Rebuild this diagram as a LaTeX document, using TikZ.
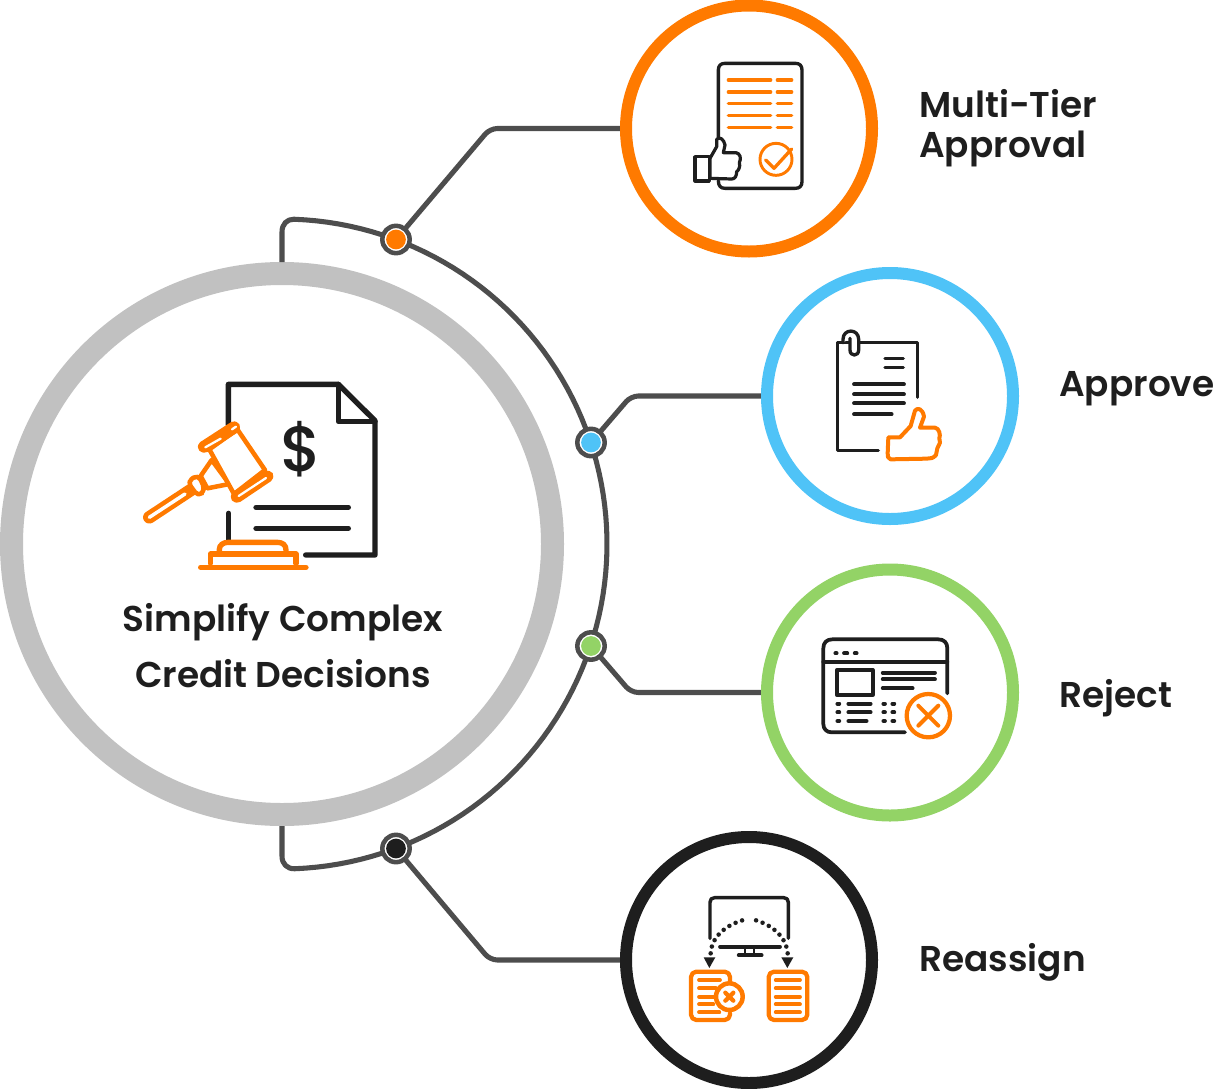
\documentclass[tikz,border=0pt]{standalone}
\usepackage{fontspec}
\setmainfont{Poppins SemiBold}
\newfontfamily\popmed{Poppins Medium}
\definecolor{cO}{HTML}{FF7A00}
\definecolor{cB}{HTML}{4FC3F7}
\definecolor{cG}{HTML}{93D366}
\definecolor{cK}{HTML}{1E1E1E}
\definecolor{cR}{HTML}{C1C1C1}
\definecolor{cL}{HTML}{4D4D4D}
\newcommand{\marker}[3]{%
  \node[circle,draw=cL,fill=white,line width=3.4pt,minimum size=20.5pt,inner sep=0,outer sep=0] (#1) at (#2) {};
  \fill[#3] (#1.center) circle (7.4pt);}
\tikzset{
  x=0.75pt,y=-0.75pt,
  ring/.style={circle,fill=white,line width=9pt,minimum size=184.5pt,inner sep=0,outer sep=0},
  conn/.style={draw=cL,line width=3.8pt,rounded corners=5.5pt},
  lab/.style={anchor=base west,inner sep=0,font=\fontsize{26.9pt}{26.9pt}\selectfont,text=cK},
  ctr/.style={anchor=base,inner sep=0,font=\fontsize{26.9pt}{26.9pt}\selectfont,text=cK},
  ik/.style={draw=cK,line width=#1,line cap=round,line join=round},
  io/.style={draw=cO,line width=#1,line cap=round,line join=round},
}
\begin{document}
\begin{tikzpicture}
\useasboundingbox (0,0) rectangle (1214,1089);
% hub and outer arc
\node[circle,draw=cR,fill=white,line width=17.25pt,minimum size=405.75pt,inner sep=0,outer sep=0] (hub) at (282,544) {};
\coordinate (hubT) at (282,262);
\coordinate (hubB) at (282,826);
\draw[draw=cL,line width=3.8pt,line join=round] (hubT) -- (282,232) .. controls (282,224) and (287,219.2) .. (294,219.2)
  -- plot[domain=87.8:-87.8,samples=90] ({282+325*cos(\x)},{544-325*sin(\x)})
  .. controls (287,868.8) and (282,864) .. (282,856) -- (hubB);
% connectors
\coordinate (m1c) at (396,239.5);
\coordinate (m2c) at (591,442.5);
\coordinate (m3c) at (591,646);
\coordinate (m4c) at (396,848.5);
\coordinate (b1) at (490,128.5);
\coordinate (b2) at (631,396);
\coordinate (b3) at (631,692.5);
\coordinate (b4) at (490,960);
\coordinate (e1) at (749,128.5);
\coordinate (e2) at (890,396);
\coordinate (e3) at (890,692.5);
\coordinate (e4) at (749,960);
\draw[conn] (m1c) -- (b1) -- (e1);
\draw[conn] (m2c) -- (b2) -- (e2);
\draw[conn] (m3c) -- (b3) -- (e3);
\draw[conn] (m4c) -- (b4) -- (e4);
% satellite circles
\node[ring,draw=cO] (c1) at (e1) {};
\node[ring,draw=cB] (c2) at (e2) {};
\node[ring,draw=cG] (c3) at (e3) {};
\node[ring,draw=cK] (c4) at (e4) {};
% markers
\marker{m1}{m1c}{cO}
\marker{m2}{m2c}{cB}
\marker{m3}{m3c}{cG}
\marker{m4}{m4c}{cK}
% texts
\node[ctr] (t1) at (283,631) {Simplify Complex};
\node[ctr] (t2) at (283,687) {Credit Decisions};
\node[lab] (l1) at (919,117.5) {Multi-Tier};
\node[lab] (l2) at (919,157.5) {Approval};
\node[lab] (l3) at (1059,396) {Approve};
\node[lab] (l4) at (1059,707.5) {Reject};
\node[lab] (l5) at (919,971.5) {Reassign};
% central icon
\begin{scope}[shift={(130,370)},scale=1/3]
\draw[ik=4pt] (296,430) -- (296,512);
\draw[ik=4pt] (295,165) -- (295,43) -- (625,43) -- (735,152) -- (735,555) -- (527,555);
\draw[ik=4pt] (625,43) -- (625,155) -- (735,155);
\draw[ik=4pt] (378,412) -- (655,412) (378,475) -- (655,475);
\node[inner sep=0,text=cK,font=\popmed\fontsize{48pt}{48pt}\selectfont] (dollar) at (514,238) {\$};
% gavel
\draw[io=3.4pt,fill=white] (245,270) -- (212,318) -- (232,355) -- (298,342) -- cycle;
\draw[cO,line width=9.4pt,line cap=round] (58,442) -- (190,355);
\draw[white,line width=2.6pt,line cap=round] (58,442) -- (165,372);
\draw[io=3.4pt,fill=white,rounded corners=4pt] (172,335) -- (205,314) -- (226,360) -- (205,380) -- cycle;
\draw[io=3.4pt,fill=white] (238,238) -- (322,178) -- (405,300) -- (312,372) -- cycle;
\draw[io=3.4pt,fill=cO,rounded corners=3pt] (205,228) -- (316,156) -- (328,176) -- (220,246) -- cycle;
\draw[io=3.4pt,fill=cO,rounded corners=3pt] (304,378) -- (416,304) -- (428,322) -- (318,396) -- cycle;
\draw[draw=white,line width=1.7pt,line cap=round] (226,232) -- (272,206) (306,178) -- (318,170) (326,378) -- (408,324);
% base
\draw[io=4pt] (268,545) -- (268,538) .. controls (268,525) and (280,517) .. (295,517) -- (442,517) .. controls (458,517) and (468,525) .. (468,540) -- (468,548);
\draw[io=4pt] (241,580) -- (241,552) -- (498,552) -- (498,580);
\draw[io=4pt] (212,592) -- (528,592);
\end{scope}
% icon 1
\begin{scope}[shift={(680,50)},scale=1/3]
\draw[ik=2.5pt] (115,262) -- (115,60) .. controls (115,47) and (122,40) .. (135,40) -- (346,40) .. controls (359,40) and (366,47) .. (366,60) -- (366,395) .. controls (366,408) and (359,415) .. (346,415) -- (135,415) .. controls (122,415) and (115,408) .. (115,392);
\foreach \yy in {90,126,161,197,233}{
  \draw[io=2.5pt] (145,\yy) -- (272,\yy) (292,\yy) -- (335,\yy);}
\draw[io=2.2pt] (288,328) circle (48);
\draw[io=2.5pt] (257,330) -- (282,355) -- (335,297);
\draw[ik=2.4pt,fill=white] (45,320) rectangle (88,393);
\draw[ik=2.4pt,fill=white] (90,325) -- (110,290) -- (110,268) .. controls (118,258) and (132,268) .. (135,285) -- (130,308) -- (168,308) .. controls (180,310) and (185,325) .. (178,338) .. controls (182,350) and (175,362) .. (170,365) .. controls (170,378) and (165,387) .. (155,387) -- (90,385) -- cycle;
\end{scope}
% icon 2
\begin{scope}[shift={(820,320)},scale=1/3]
\draw[ik=2.5pt] (292,232) -- (292,68) -- (52,68) -- (52,392) -- (175,392);
\draw[ik=2.5pt] (195,115) -- (250,115) (195,142) -- (250,142);
\draw[ik=2.8pt] (102,193) -- (252,193) (102,223) -- (252,223) (102,250) -- (252,250) (102,283) -- (215,283);
\draw[ik=2.5pt,fill=white] (69,68) -- (69,58) .. controls (69,25) and (116,25) .. (116,58) -- (116,90) .. controls (116,110) and (90,110) .. (90,90) -- (90,55);
\draw[io=3pt] (205,352) -- (240,352) -- (272,318) -- (285,272) .. controls (292,262) and (308,265) .. (312,290) -- (300,323) -- (345,323) .. controls (358,325) and (362,345) .. (358,355) -- (360,368) -- (352,385) -- (348,405) .. controls (340,415) and (330,416) .. (320,416) -- (212,418) .. controls (203,415) and (203,410) .. (203,400) -- cycle;
\end{scope}
% icon 3
\begin{scope}[shift={(810,625)},scale=1/3]
\draw[ik=2.8pt] (285,322) -- (65,322) .. controls (50,322) and (40,312) .. (40,297) -- (40,70) .. controls (40,53) and (50,43) .. (67,43) -- (385,43) .. controls (402,43) and (412,53) .. (412,70) -- (412,205);
\draw[ik=2.8pt] (40,110) -- (412,110);
\draw[ik=2.8pt] (76,85) -- (80,85) (102,85) -- (112,85) (134,85) -- (140,85);
\draw[ik=2.8pt] (80,135) rectangle (188,210);
\draw[ik=2.8pt] (218,143) -- (375,143) (218,163) -- (375,163) (218,190) -- (308,190);
\foreach \yy/\xe in {236/182,262/182,288/170}{
  \draw[ik=2.8pt] (82,\yy) -- (88,\yy) (115,\yy) -- (\xe,\yy) (220,\yy) -- (225,\yy) (247,\yy) -- (253,\yy);}
\draw[io=3.2pt,fill=white] (355,272) circle (65);
\draw[io=3pt] (325,242) -- (385,302) (385,242) -- (325,302);
\end{scope}
% icon 4
\begin{scope}[shift={(680,885)},scale=1/3]
\draw[ik=2.6pt] (90,160) -- (90,52) .. controls (90,43) and (95,38) .. (104,38) -- (311,38) .. controls (320,38) and (325,43) .. (325,52) -- (325,160);
\draw[ik=2.8pt] (120,185) -- (300,185);
\draw[ik=2.2pt] (195,188) -- (195,210) (222,188) -- (222,210);
\draw[ik=2.8pt] (176,211) -- (245,211);
\draw[draw=cK,line width=3.4pt,line cap=round,dash pattern=on 0pt off 5.2pt] (92,205) .. controls (95,150) and (145,118) .. (190,105);
\draw[draw=cK,line width=3.4pt,line cap=round,dash pattern=on 0pt off 5.2pt] (323,205) .. controls (318,150) and (270,118) .. (225,105);
\fill[cK] (71,217) -- (106,217) -- (88,249) -- cycle (304,217) -- (340,217) -- (322,249) -- cycle;
\draw[io=3.2pt,rounded corners=4pt] (150,300) -- (150,260) -- (33,260) -- (33,405) -- (150,405) -- (150,385);
\draw[io=2.8pt] (57,285) -- (120,285) (57,310) -- (108,310) (57,335) -- (100,335) (57,358) -- (100,358) (57,382) -- (118,382);
\draw[io=3.4pt,fill=white] (148,335) circle (40);
\draw[io=3.2pt] (136,323) -- (160,347) (160,323) -- (136,347);
\draw[io=3.2pt,rounded corners=4pt] (266,260) rectangle (382,405);
\draw[io=2.8pt] (287,285) -- (360,285) (287,310) -- (360,310) (287,335) -- (360,335) (287,358) -- (360,358) (287,382) -- (360,382);
\end{scope}
\end{tikzpicture}
\end{document}
